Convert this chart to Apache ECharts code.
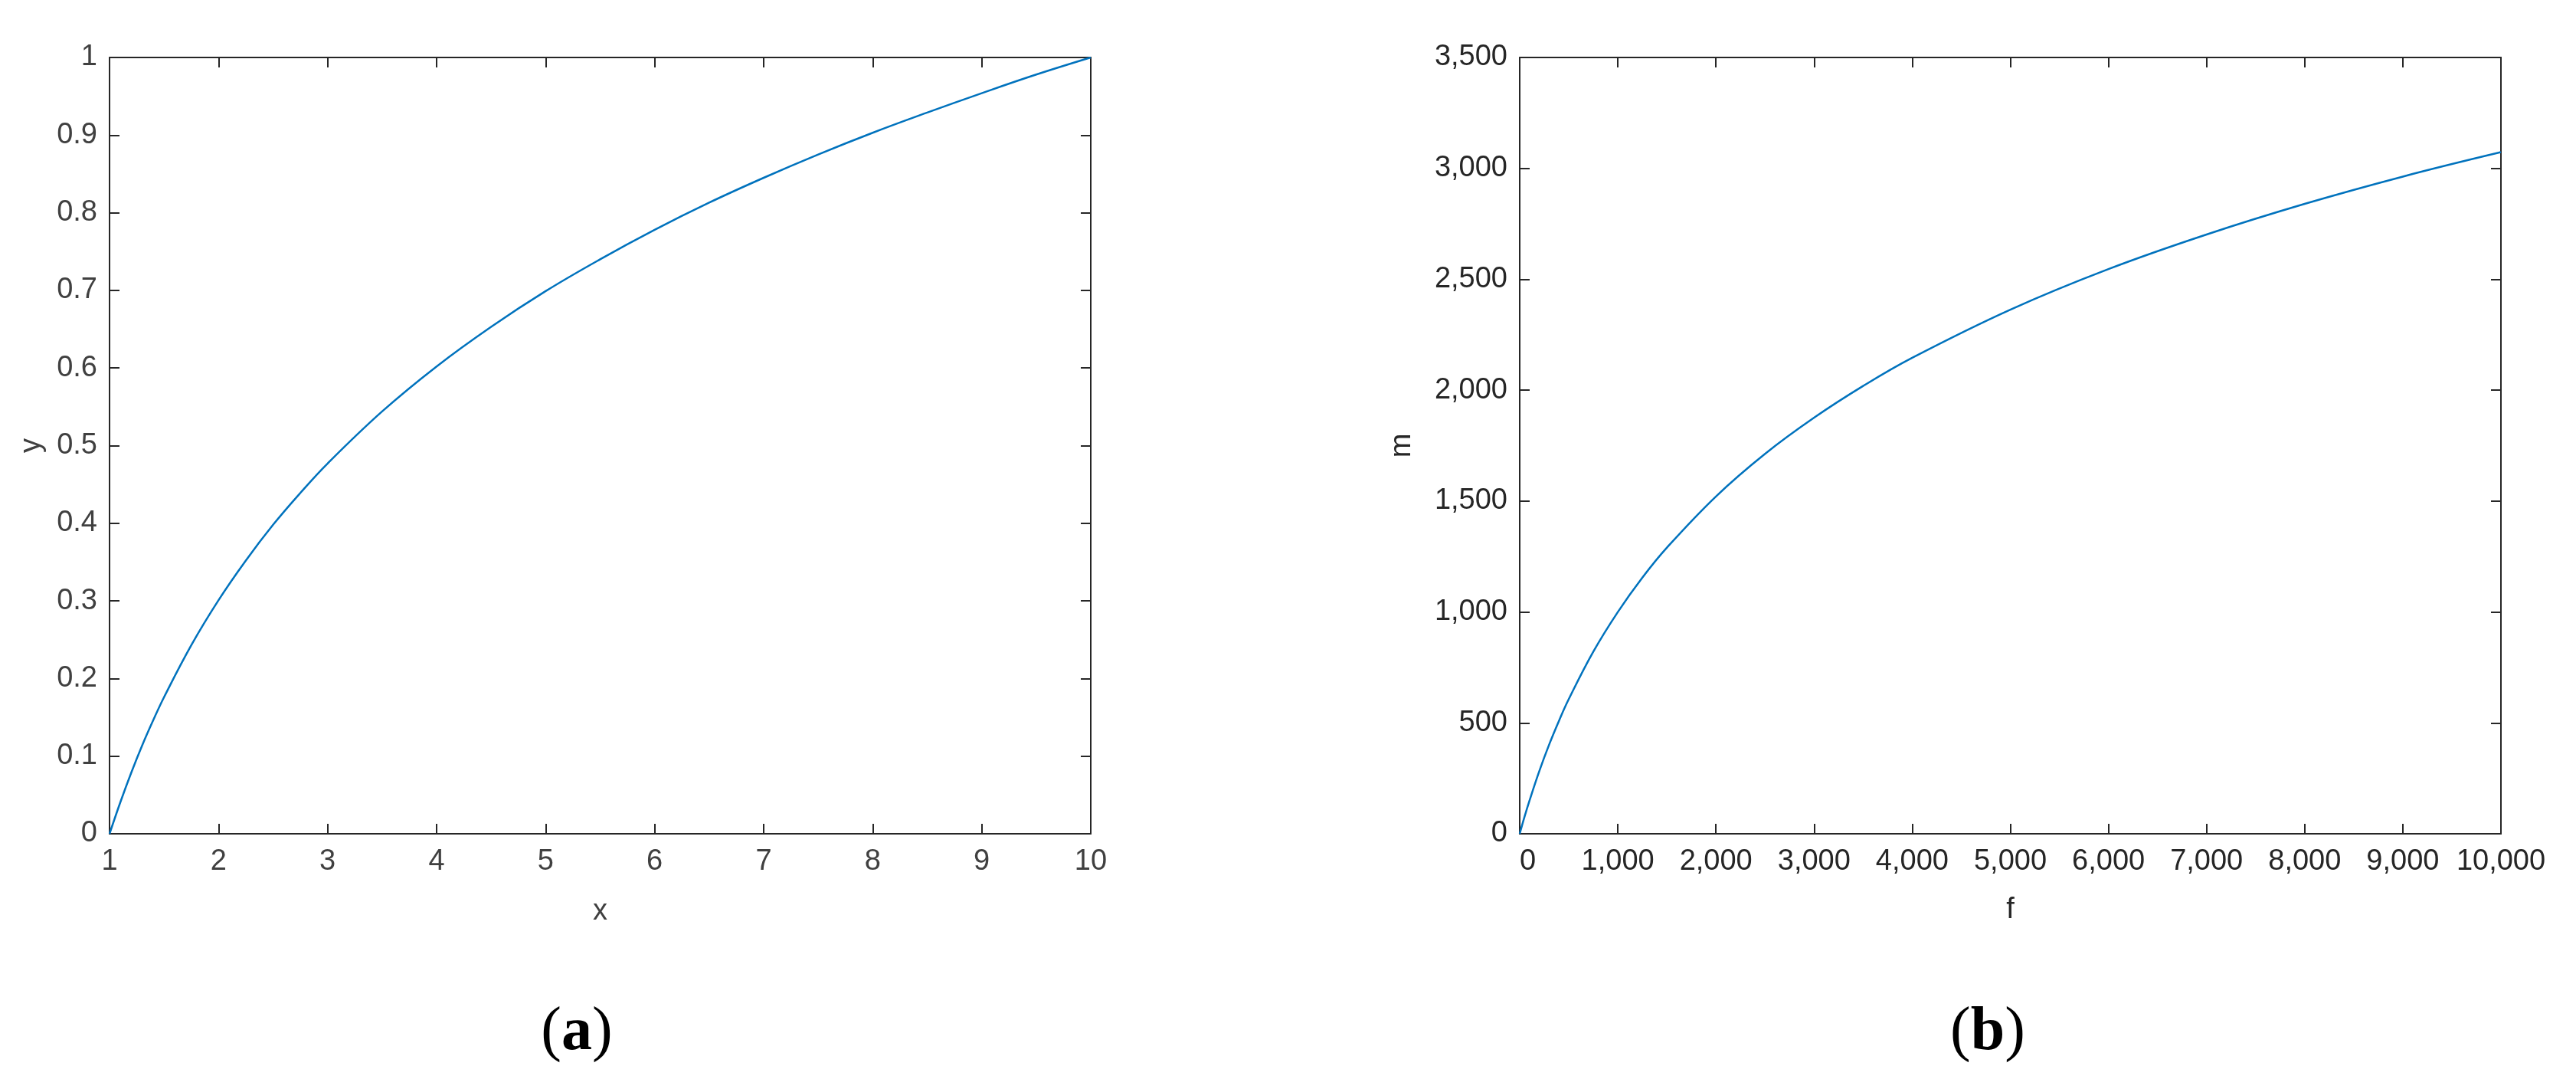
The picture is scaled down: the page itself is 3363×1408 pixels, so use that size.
<!DOCTYPE html>
<html>
<head>
<meta charset="utf-8">
<title>log curves</title>
<script src="https://cdn.jsdelivr.net/npm/echarts@6/dist/echarts.min.js"></script>
<style>
  html, body { margin: 0; padding: 0; background: #fff; }
  #chart { width: 3363px; height: 1408px; }
</style>
</head>
<body>
<div id="chart"></div>
<script>
// panel (a): y against x
var xA = [1, 1.1, 1.2, 1.3, 1.4, 1.5, 1.75, 2, 2.25, 2.5, 2.75, 3, 3.5, 4, 4.5, 5, 5.5, 6, 6.5, 7, 7.5, 8, 8.5, 9, 9.5, 10];
var yA = [0, 0.041, 0.079, 0.114, 0.146, 0.176, 0.243, 0.301, 0.352, 0.398, 0.439, 0.477, 0.544, 0.602, 0.653, 0.699, 0.740, 0.778, 0.813, 0.845, 0.875, 0.903, 0.929, 0.954, 0.978, 1.0];

// panel (b): m against f
var fB = [0, 50, 100, 200, 300, 400, 500, 750, 1000, 1250, 1500, 2000, 2500, 3000, 3500, 4000, 5000, 6000, 7000, 8000, 9000, 10000];
var mB = [0, 78, 150, 283, 402, 509, 607, 821, 1000, 1155, 1290, 1521, 1713, 1876, 2019, 2146, 2363, 2546, 2702, 2840, 2963, 3073];

var captions = ['a', 'b'];

function pairs(xs, ys) {
  return xs.map(function (x, i) { return [x, ys[i]]; });
}
function toThousands(num) {
  return (num || 0).toString().replace(/(\d)(?=(?:\d{3})+$)/g, '$1,');
}

var axisColor = '#262626';
var lblFont = 'Arial, "Liberation Sans", sans-serif';

function xAxisOf(gi, min, max, step, name, gap, color, fmt, top) {
  return {
    type: 'value', gridIndex: gi, min: min, max: max, interval: step,
    position: top ? 'top' : 'bottom',
    name: top ? '' : name, nameLocation: 'middle', nameGap: gap,
    nameTextStyle: { fontSize: 38, color: color, fontFamily: lblFont },
    axisLine: { show: true, onZero: false, lineStyle: { color: axisColor, width: 2 } },
    axisTick: { show: true, inside: true, length: 13, lineStyle: { color: axisColor, width: 2 } },
    axisLabel: {
      show: !top, margin: 18, fontSize: 38, color: color, fontFamily: lblFont,
      formatter: fmt, showMinLabel: true, showMaxLabel: true
    },
    splitLine: { show: false }
  };
}
function yAxisOf(gi, min, max, step, name, gap, color, fmt, right) {
  return {
    type: 'value', gridIndex: gi, min: min, max: max, interval: step,
    position: right ? 'right' : 'left',
    name: right ? '' : name, nameLocation: 'middle', nameGap: gap,
    nameTextStyle: { fontSize: 38, color: color, fontFamily: lblFont },
    axisLine: { show: true, onZero: false, lineStyle: { color: axisColor, width: 2 } },
    axisTick: { show: true, inside: true, length: 13, lineStyle: { color: axisColor, width: 2 } },
    axisLabel: {
      show: !right, margin: 16, fontSize: 38, color: color, fontFamily: lblFont,
      formatter: fmt, showMinLabel: true, showMaxLabel: true
    },
    splitLine: { show: false }
  };
}

var fmtPlain = function (v) { return String(Math.round(v * 10) / 10); };
var fmtComma = function (v) { return toThousands(v); };

var xB = xAxisOf(1, 0, 10000, 1000, 'f', 81, axisColor, fmtComma, false);
xB.axisLabel.alignMinLabel = 'left';

function captionStyle(letter) {
  return {
    text: '{n|(}{b|' + letter + '}{n|)}',
    align: 'center', verticalAlign: 'middle',
    rich: {
      n: { fontSize: 80, fontFamily: '"Liberation Serif", "Times New Roman", serif', fill: '#000', color: '#000' },
      b: { fontSize: 80, fontWeight: 'bold', fontFamily: '"Liberation Serif", "Times New Roman", serif', fill: '#000', color: '#000' }
    }
  };
}

var option = {
  animation: false,
  backgroundColor: '#fff',
  grid: [
    { left: 143, top: 75, width: 1281, height: 1013, containLabel: false },
    { left: 1984, top: 75, width: 1281, height: 1013, containLabel: false }
  ],
  xAxis: [
    xAxisOf(0, 1, 10, 1, 'x', 83, '#404040', fmtPlain, false),
    xAxisOf(0, 1, 10, 1, '', 0, '#404040', fmtPlain, true),
    xB,
    xAxisOf(1, 0, 10000, 1000, '', 0, axisColor, fmtComma, true)
  ],
  yAxis: [
    yAxisOf(0, 0, 1, 0.1, 'y', 82, '#404040', fmtPlain, false),
    yAxisOf(0, 0, 1, 0.1, '', 0, '#404040', fmtPlain, true),
    yAxisOf(1, 0, 3500, 500, 'm', 134, axisColor, fmtComma, false),
    yAxisOf(1, 0, 3500, 500, '', 0, axisColor, fmtComma, true)
  ],
  series: [
    {
      type: 'line', xAxisIndex: 0, yAxisIndex: 0,
      data: pairs(xA, yA), smooth: 0.4,
      showSymbol: false, symbol: 'none',
      lineStyle: { color: '#0072BD', width: 2.5 }
    },
    {
      type: 'line', xAxisIndex: 2, yAxisIndex: 2,
      data: pairs(fB, mB), smooth: 0.4,
      showSymbol: false, symbol: 'none',
      lineStyle: { color: '#0072BD', width: 2.5 }
    }
  ],
  graphic: [
    { type: 'text', x: 753, y: 1348, style: captionStyle(captions[0]) },
    { type: 'text', x: 2595, y: 1348, style: captionStyle(captions[1]) }
  ]
};

var chart = echarts.init(document.getElementById('chart'));
chart.setOption(option);
</script>
</body>
</html>
